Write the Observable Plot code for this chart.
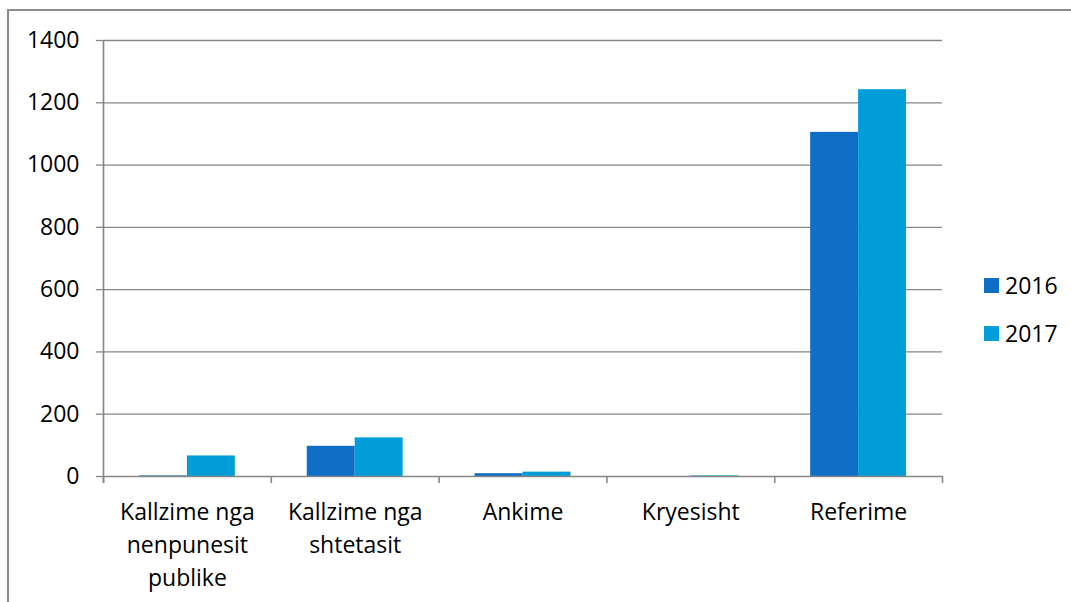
<!DOCTYPE html>
<html>
<head>
<meta charset="utf-8">
<script src="https://cdn.jsdelivr.net/npm/d3@7"></script>
<script src="https://cdn.jsdelivr.net/npm/@observablehq/plot@0.6"></script>
<style>
  html, body { margin: 0; padding: 0; background: #fff; width: 1071px; height: 602px; overflow: hidden; position: relative; font-family: "Open Sans", sans-serif; }
  #frame { position: absolute; left: 7px; top: 9px; width: 1120px; height: 700px; border: 2px solid #8c8c8c; box-sizing: border-box; }
  #chart { position: absolute; left: 0; top: 0; }
  .lg { position: absolute; left: 984px; display: flex; align-items: center; font-size: 23px; color: #000; }
  .lg span.sw { display: inline-block; width: 15px; height: 15px; margin-right: 6px; }
</style>
</head>
<body>
<div id="frame"></div>
<div id="chart"></div>
<div id="legend"></div>
<script>
const categories = ["Kallzime nga nenpunesit publike", "Kallzime nga shtetasit", "Ankime", "Kryesisht", "Referime"];
const categoryLabels = ["Kallzime nga\nnenpunesit\npublike", "Kallzime nga\nshtetasit", "Ankime", "Kryesisht", "Referime"];
const years = ["2016", "2017"];
const values2016 = [2, 97, 9, 0, 1105];
const values2017 = [66, 124, 14, 2, 1242];
const yTicks = [0, 200, 400, 600, 800, 1000, 1200, 1400];
const colors = ["#0F6FC6", "#009DD9"];

const series = [values2016, values2017];
const rows = categories.flatMap((c, i) => years.map((y, j) => ({cat: c, i, year: y, j, value: series[j][i]})));

// grouped layout within each category slot (fractions of the slot)
const outer = 0.2143, barW = 0.2857;
const grey = "#868686";

const chart = Plot.plot({
  width: 1071,
  height: 602,
  marginLeft: 103,
  marginRight: 129,
  marginTop: 40,
  marginBottom: 126,
  style: {fontFamily: "'Open Sans', sans-serif", fontSize: "23px", color: "#000", background: "transparent"},
  x: {domain: [0, categories.length], axis: null},
  y: {domain: [0, 1400], axis: null},
  color: {type: "ordinal", domain: years, range: colors},
  marks: [
    Plot.gridY(yTicks.filter(t => t > 0), {stroke: grey, strokeOpacity: 1, strokeWidth: 1.3}),
    Plot.axisY({ticks: yTicks, tickSize: 7, tickPadding: 17, tickFormat: d => String(d), stroke: grey, strokeWidth: 1.3, label: null, fill: "#000"}),
    Plot.rectY(rows, {
      x1: d => d.i + outer + d.j * barW,
      x2: d => d.i + outer + (d.j + 1) * barW,
      y1: 0,
      y2: "value",
      fill: "year"
    }),
    Plot.ruleY([0], {stroke: grey, strokeWidth: 1.6}),
    Plot.ruleX([0], {stroke: grey, strokeWidth: 1.6, insetBottom: -7}),
    Plot.axisX({ticks: d3.range(0, categories.length + 1), tickSize: 7, tickFormat: () => "", stroke: grey, strokeWidth: 1.6, label: null}),
    Plot.axisX({ticks: categories.map((c, i) => i + 0.5), tickSize: 0, tickPadding: 20, tickFormat: t => categoryLabels[Math.floor(t)], lineHeight: 1.43, label: null, fill: "#000"})
  ]
});
document.getElementById("chart").appendChild(chart);

const legend = document.getElementById("legend");
const legendTops = [269, 317];
years.forEach((y, j) => {
  const el = document.createElement("div");
  el.className = "lg";
  el.style.top = legendTops[j] + "px";
  el.innerHTML = `<span class="sw" style="background:${colors[j]}"></span><span>${y}</span>`;
  legend.appendChild(el);
});
</script>
</body>
</html>
